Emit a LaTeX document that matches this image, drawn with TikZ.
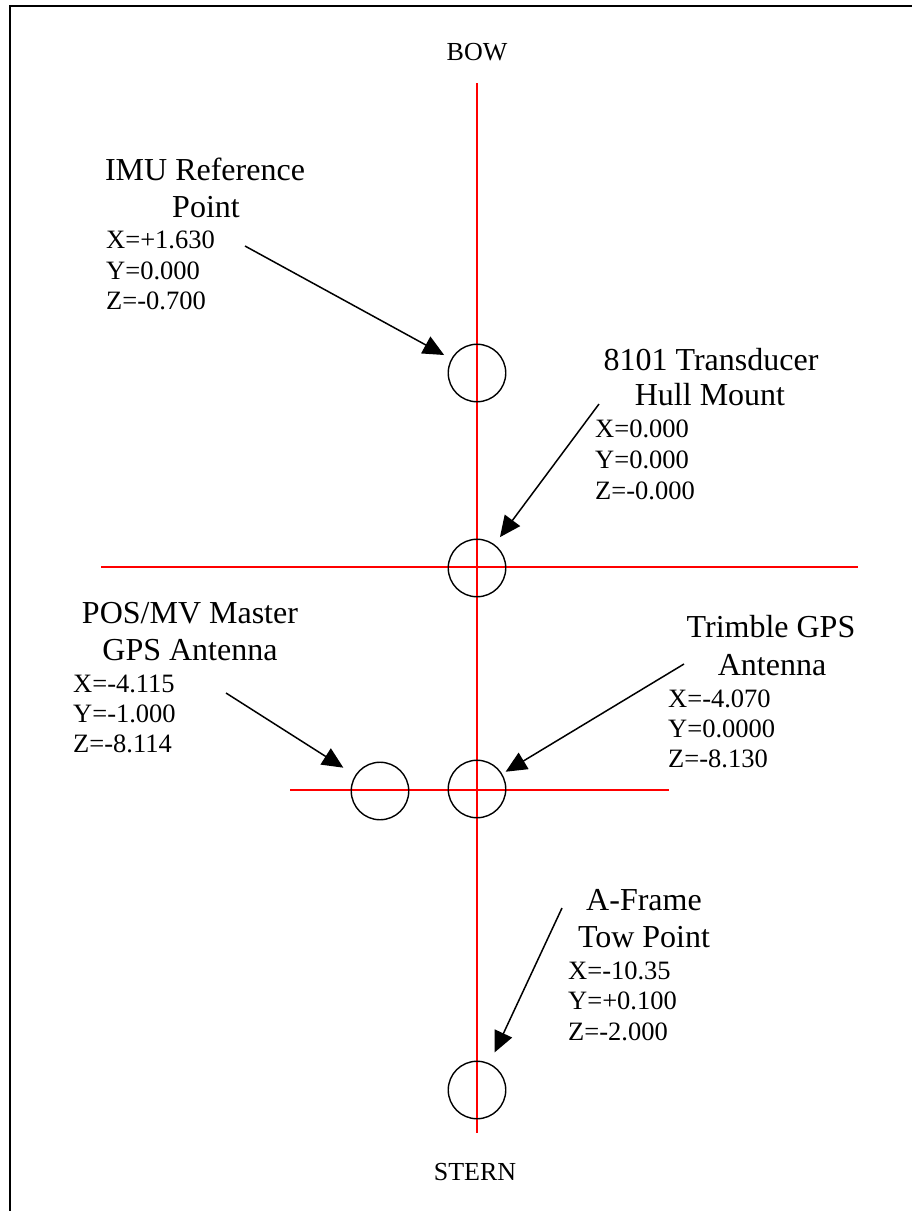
\documentclass[tikz,border=0pt]{standalone}
\usepackage{fontspec}
\setmainfont{Liberation Serif}
\usetikzlibrary{arrows.meta}
\tikzset{
  redline/.style={draw=red, line width=1.3pt},
  mark circle/.style={circle, draw=black, line width=1.4pt, minimum size=57.5pt, inner sep=0pt},
  pointer/.style={draw=black, line width=1.5pt, -{Triangle[length=21pt,width=19pt]}},
  ttl/.style={anchor=base, inner sep=0pt, font=\fontsize{32}{37}\selectfont},
  crd/.style={anchor=base west, inner sep=0pt, font=\fontsize{26.5}{30}\selectfont},
  endlabel/.style={anchor=base, inner sep=0pt, font=\fontsize{26}{30}\selectfont},
}
\begin{document}
\begin{tikzpicture}[x=1pt, y=-1pt]
\useasboundingbox (0,0) rectangle (912,1211);
% frame
\draw[line width=2pt] (10,1215) -- (10,6) -- (916,6);
% red axes
\coordinate (vtop) at (477,83);
\coordinate (vbot) at (477,1133);
\coordinate (h1l) at (101,567);
\coordinate (h1r) at (858,567);
\coordinate (h2l) at (290,790);
\coordinate (h2r) at (669,790);
\draw[redline] (vtop) -- (vbot);
\draw[redline] (h1l) -- (h1r);
\draw[redline] (h2l) -- (h2r);
% circles
\node[mark circle] (imu) at (477,373) {};
\node[mark circle] (trans) at (477,568) {};
\node[mark circle] (pos) at (380,791) {};
\node[mark circle] (trim) at (477,789) {};
\node[mark circle] (tow) at (477,1090) {};
% end labels
\node[endlabel] (bow) at (477,60) {BOW};
\node[endlabel] (stern) at (475,1180) {STERN};
% IMU
\node[ttl] (imut1) at (205,180) {IMU Reference};
\node[ttl] (imut2) at (206,217) {Point};
\node[crd] (imux) at (106,248) {X=+1.630};
\node[crd] (imuy) at (106,279) {Y=0.000};
\node[crd] (imuz) at (106,309) {Z=-0.700};
% 8101
\node[ttl] (trt1) at (711,370) {8101 Transducer};
\node[ttl] (trt2) at (710,405) {Hull Mount};
\node[crd] (trx) at (595,437) {X=0.000};
\node[crd] (try) at (595,468) {Y=0.000};
\node[crd] (trz) at (595,499) {Z=-0.000};
% POS/MV
\node[ttl] (post1) at (190,623) {POS/MV Master};
\node[ttl] (post2) at (190,660) {GPS Antenna};
\node[crd] (posx) at (73,692) {X=-4.115};
\node[crd] (posy) at (73,722) {Y=-1.000};
\node[crd] (posz) at (73,752) {Z=-8.114};
% Trimble
\node[ttl] (tmt1) at (771,637) {Trimble GPS};
\node[ttl] (tmt2) at (772,675) {Antenna};
\node[crd] (tmx) at (668,707) {X=-4.070};
\node[crd] (tmy) at (668,737) {Y=0.0000};
\node[crd] (tmz) at (668,767) {Z=-8.130};
% A-Frame
\node[ttl] (aft1) at (644,910) {A-Frame};
\node[ttl] (aft2) at (644,947) {Tow Point};
\node[crd] (afx) at (568,979) {X=-10.35};
\node[crd] (afy) at (568,1009) {Y=+0.100};
\node[crd] (afz) at (568,1040) {Z=-2.000};
% arrows
\coordinate (imuA) at (245,246);
\coordinate (trA) at (599,404);
\coordinate (posA) at (226,693);
\coordinate (tmA) at (684,664);
\coordinate (afA) at (562,908);
\draw[pointer, shorten >=8pt] (imuA) -- (imu);
\draw[pointer, shorten >=9pt] (trA) -- (trans);
\draw[pointer, shorten >=14pt] (posA) -- (pos);
\draw[pointer, shorten >=4pt] (tmA) -- (trim);
\draw[pointer, shorten >=12pt] (afA) -- (tow);
\end{tikzpicture}
\end{document}
